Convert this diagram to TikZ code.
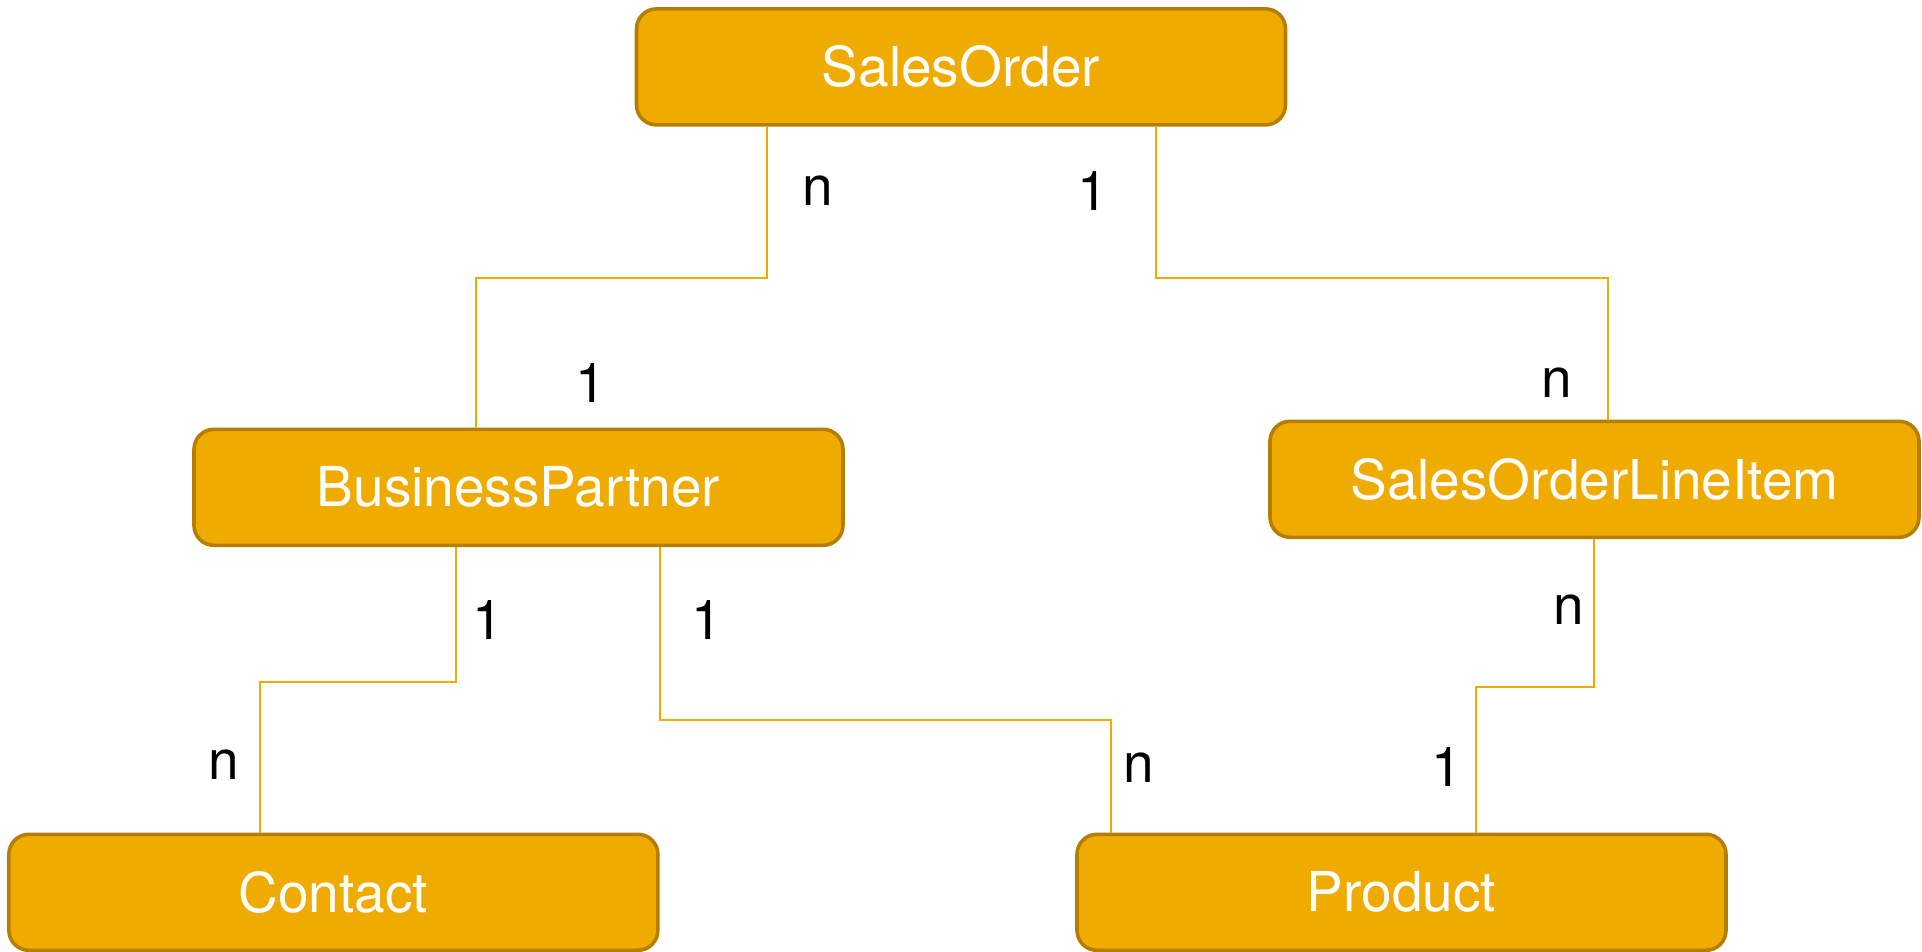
\documentclass[tikz,border=0pt]{standalone}
\usepackage{fontspec}
\setmainfont{TeX Gyre Heros}
\definecolor{gold}{HTML}{F0AB00}
\definecolor{goldline}{HTML}{B57E00}
\begin{document}
\begin{tikzpicture}[x=1pt,y=-1pt,
  entity/.style={rectangle, rounded corners=20pt, draw=goldline, line width=3.6pt, fill=gold,
    minimum width=649pt, minimum height=116pt, text=white, inner sep=0pt,
    font=\fontsize{55}{60}\selectfont},
  conn/.style={draw=gold, line width=2pt},
  card/.style={font=\fontsize{55}{60}\selectfont, text=black, inner sep=0pt}]
\useasboundingbox (0,0) rectangle (1922,952);
\node[entity] (so)   at (961,66.9)    {SalesOrder};
\node[entity] (bp)   at (518.5,487.3) {BusinessPartner};
\node[entity] (soli) at (1594.5,479.3) {SalesOrderLineItem};
\node[entity] (ct)   at (333.4,892.3) {Contact};
\node[entity] (pr)   at (1401.5,892.3) {Product};
% bend points
\coordinate (a1) at (767,278);  \coordinate (a2) at (476,278);
\coordinate (b1) at (1156,278); \coordinate (b2) at (1608,278);
\coordinate (c1) at (456,681.5); \coordinate (c2) at (260,681.5);
\coordinate (d1) at (659.5,719.5); \coordinate (d2) at (1110.6,719.5);
\coordinate (e1) at (1593.5,686.5); \coordinate (e2) at (1476,686.5);
\draw[conn] (so.south -| a1) -- (a1) -- (a2) -- (bp.north -| a2);
\draw[conn] (so.south -| b1) -- (b1) -- (b2) -- (soli.north -| b2);
\draw[conn] (bp.south -| c1) -- (c1) -- (c2) -- (ct.north -| c2);
\draw[conn] (bp.south -| d1) -- (d1) -- (d2) -- (pr.north -| d2);
\draw[conn] (soli.south -| e1) -- (e1) -- (e2) -- (pr.north -| e2);
% cardinalities
\node[card] (l1) at (817.6,191) {n};
\node[card] (l2) at (1093,191) {1};
\node[card] (l3) at (590.6,383.4) {1};
\node[card] (l4) at (1556.5,383) {n};
\node[card] (l5) at (487.6,620) {1};
\node[card] (l6) at (707,620) {1};
\node[card] (l7) at (1568.8,610) {n};
\node[card] (l8) at (224,765) {n};
\node[card] (l9) at (1138.5,768) {n};
\node[card] (l10) at (1447,767) {1};
\end{tikzpicture}
\end{document}
